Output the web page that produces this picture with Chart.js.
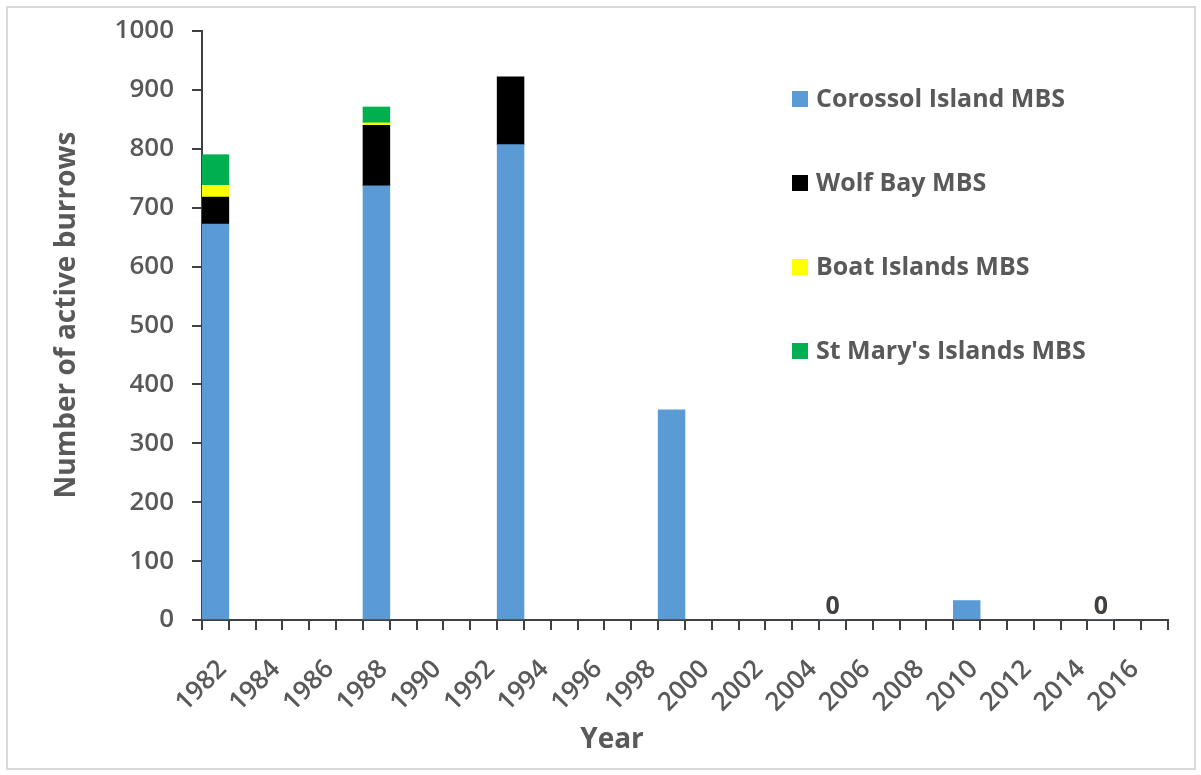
<!DOCTYPE html>
<html>
<head>
<meta charset="utf-8">
<script src="https://cdn.jsdelivr.net/npm/chart.js@4.4.1/dist/chart.umd.min.js"></script>
<style>
    body { margin: 0; background: #fff; }
    #wrap { position: relative; width: 1201px; height: 775px; }
</style>
</head>
<body>
<div id="wrap"><canvas id="burrowChart"></canvas></div>
<script>
// Jahre 1982-2017, Werte pro Kolonie (null = nicht erhoben)
const years = [];
for (let y = 1982; y <= 2017; y++) years.push(String(y));

const corossol = [672, null, null, null, null, null, 737, null, null, null, null, 807, null, null, null, null, null, 357,
                  null, null, null, null, null, 0, null, null, null, null, 33, null, null, null, null, 0, null, null];
const wolfBay  = [46, null, null, null, null, null, 103, null, null, null, null, 115, null, null, null, null, null, null,
                  null, null, null, null, null, null, null, null, null, null, null, null, null, null, null, null, null, null];
const boatIslands = [20, null, null, null, null, null, 4, null, null, null, null, null, null, null, null, null, null, null,
                  null, null, null, null, null, null, null, null, null, null, null, null, null, null, null, null, null, null];
const stMarys  = [52, null, null, null, null, null, 27, null, null, null, null, null, null, null, null, null, null, null,
                  null, null, null, null, null, null, null, null, null, null, null, null, null, null, null, null, null, null];

const seriesNames = ['Corossol Island MBS', 'Wolf Bay MBS', 'Boat Islands MBS', "St Mary's Islands MBS"];
const seriesColors = ['#5B9BD5', '#000000', '#FFFF00', '#00B050'];
const yTitle = 'Number of active burrows';
const xTitle = 'Year';

const FONT = '"Open Sans", "Liberation Sans", sans-serif';

// Rahmen, Legende, Achsentitel und 0-Beschriftungen
const decoPlugin = {
    id: 'deco',
    beforeDraw(chart) {
        const ctx = chart.ctx;
        ctx.save();
        ctx.fillStyle = '#fff';
        ctx.fillRect(0, 0, chart.width, chart.height);
        ctx.strokeStyle = '#d9d9d9';
        ctx.lineWidth = 2;
        ctx.strokeRect(7, 7, 1188, 762);
        ctx.restore();
    },
    afterDraw(chart) {
        const ctx = chart.ctx;
        ctx.save();
        // Legende
        ctx.font = 'bold 25px ' + FONT;
        ctx.textBaseline = 'middle';
        chart.data.datasets.forEach((ds, i) => {
            const y = 99 + i * 84;
            ctx.fillStyle = ds.backgroundColor;
            ctx.fillRect(792, y - 8, 16, 16);
            ctx.fillStyle = '#595959';
            ctx.textAlign = 'left';
            ctx.fillText(ds.label, 816, y + 1);
        });
        // 0-Werte beschriften
        const meta = chart.getDatasetMeta(0);
        ctx.font = 'bold 25px ' + FONT;
        ctx.textAlign = 'center';
        ctx.textBaseline = 'bottom';
        ctx.fillStyle = '#404040';
        chart.data.datasets[0].data.forEach((v, i) => {
            if (v === 0) {
                const el = meta.data[i];
                ctx.fillText('0', el.x, el.y - 1);
            }
        });
        // Achsentitel
        ctx.font = 'bold 28px ' + FONT;
        ctx.fillStyle = '#595959';
        ctx.textBaseline = 'middle';
        ctx.fillText(xTitle, 612, 740);
        ctx.translate(67, 315);
        ctx.rotate(-Math.PI / 2);
        ctx.fillText(yTitle, 0, 0);
        ctx.restore();
    }
};

const ctx = document.getElementById('burrowChart').getContext('2d');
new Chart(ctx, {
    type: 'bar',
    data: {
        labels: years,
        datasets: [corossol, wolfBay, boatIslands, stMarys].map((d, i) => ({
            label: seriesNames[i],
            data: d,
            backgroundColor: seriesColors[i],
            barPercentage: 1,
            categoryPercentage: 1
        }))
    },
    options: {
        responsive: true,
        maintainAspectRatio: false,
        animation: false,
        devicePixelRatio: 1,
        layout: {
            padding: { left: 0, right: 28, top: 29, bottom: 0 }
        },
        plugins: {
            legend: { display: false },
            tooltip: { enabled: false }
        },
        scales: {
            x: {
                stacked: true,
                afterFit: function(scale) { scale.height = 155; },
                grid: {
                    offset: true,
                    drawOnChartArea: false,
                    drawTicks: true,
                    tickLength: 10,
                    color: '#404040',
                    lineWidth: 2
                },
                border: { display: true, color: '#404040', width: 2 },
                ticks: {
                    autoSkip: false,
                    maxRotation: 45,
                    minRotation: 45,
                    padding: 24,
                    labelOffset: 7,
                    color: '#595959',
                    font: { family: FONT, size: 26, weight: '600' },
                    callback: function(value, index) {
                        return index % 2 === 0 ? this.getLabelForValue(value) : '';
                    }
                }
            },
            y: {
                stacked: true,
                min: 0,
                max: 1000,
                afterFit: function(scale) { scale.width = 202; },
                grid: {
                    drawOnChartArea: false,
                    drawTicks: true,
                    tickLength: 10,
                    color: '#404040',
                    lineWidth: 2
                },
                border: { display: true, color: '#404040', width: 2 },
                ticks: {
                    stepSize: 100,
                    padding: 18,
                    color: '#595959',
                    font: { family: FONT, size: 26, weight: '600', lineHeight: 1 },
                    callback: function(value) { return String(value); }
                }
            }
        }
    },
    plugins: [decoPlugin]
});
</script>
</body>
</html>
